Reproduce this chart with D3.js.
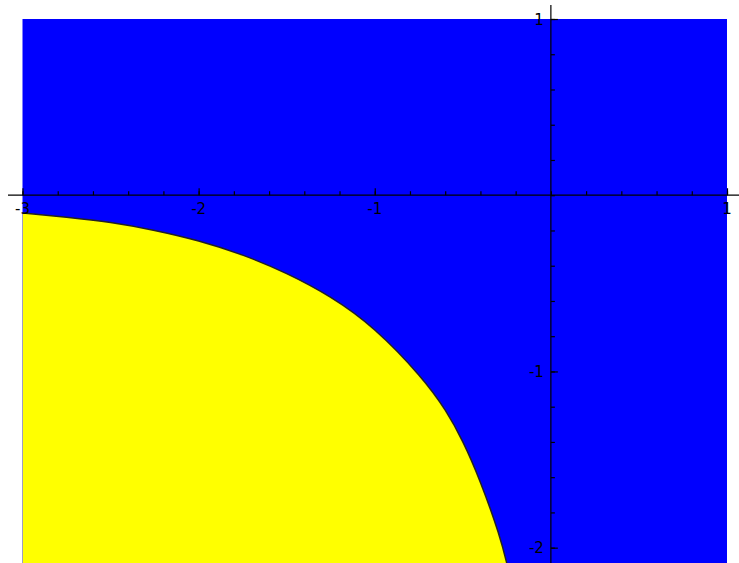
<!DOCTYPE html>
<html>
<head>
<meta charset="utf-8">
<script src="https://cdn.jsdelivr.net/npm/d3@7"></script>
<style>
  body { margin: 0; background: #fff; }
  text { font-family: "DejaVu Sans", sans-serif; font-size: 15px; }
</style>
</head>
<body>
<svg id="chart" width="739" height="563"></svg>
<script>
// region boundary
var boundaryX = [-3, -2.75, -2.5, -2.25, -2.0, -1.75, -1.5, -1.25, -1.0, -0.75, -0.6, -0.5, -0.4, -0.3, -0.25]
var boundaryY = [-0.1, -0.125, -0.155, -0.2, -0.26, -0.34, -0.445, -0.58, -0.765, -1.02, -1.22, -1.4, -1.63, -1.91, -2.09]

var xDomain = [-3, 1]
var yDomain = [-2.087, 1]
var xMajor = [-3, -2, -1, 1]
var yMajor = [-2, -1, 1]
var xMinor = d3.range(-15, 6).map(d => d / 5)
var yMinor = d3.range(-10, 6).map(d => d / 5)

var svg = d3.select("#chart")

var x = d3.scaleLinear().domain(xDomain).range([22.5, 727])
var y = d3.scaleLinear().domain(yDomain).range([563, 19])

svg.append("clipPath").attr("id", "plot")
    .append("rect")
    .attr("x", x(xDomain[0]))
    .attr("y", y(yDomain[1]))
    .attr("width", x(xDomain[1]) - x(xDomain[0]))
    .attr("height", y(yDomain[0]) - y(yDomain[1]))

// background region (blue)
svg.append("rect")
    .attr("x", x(xDomain[0]))
    .attr("y", y(yDomain[1]))
    .attr("width", x(xDomain[1]) - x(xDomain[0]))
    .attr("height", y(yDomain[0]) - y(yDomain[1]))
    .attr("fill", "#0000ff")

var pts = boundaryX.map((d, i) => [d, boundaryY[i]])

var line = d3.line()
    .x(d => x(d[0]))
    .y(d => y(d[1]))
    .curve(d3.curveNatural)

// yellow region: under the boundary, closed via the lower-left corner
var area = d3.area()
    .x(d => x(d[0]))
    .y0(y(yDomain[0]) + 5)
    .y1(d => y(d[1]))
    .curve(d3.curveNatural)

var g = svg.append("g").attr("clip-path", "url(#plot)")

g.append("path")
    .datum(pts)
    .attr("fill", "#ffff00")
    .attr("d", area)

g.append("path")
    .datum(pts)
    .attr("fill", "none")
    .attr("stroke", "#222")
    .attr("stroke-width", 1.5)
    .attr("d", line)

// axes through the origin
var x0 = x(0), y0 = y(0)

svg.append("line")
    .attr("x1", 8).attr("x2", 739)
    .attr("y1", y0).attr("y2", y0)
    .attr("stroke", "#000").attr("stroke-width", 1.2)

svg.append("line")
    .attr("x1", x0).attr("x2", x0)
    .attr("y1", 5).attr("y2", 563)
    .attr("stroke", "#000").attr("stroke-width", 1.2)

// minor and major ticks
var gx = svg.append("g").attr("transform", "translate(0," + y0 + ")")
    .call(d3.axisTop(x).tickValues(xMinor).tickSize(4).tickFormat(""))
gx.call(g => g.select(".domain").remove())
var gxMaj = svg.append("g").attr("transform", "translate(0," + y0 + ")")
    .call(d3.axisTop(x).tickValues(xMajor).tickSize(7).tickFormat(""))
gxMaj.call(g => g.select(".domain").remove())

var gy = svg.append("g").attr("transform", "translate(" + x0 + ",0)")
    .call(d3.axisRight(y).tickValues(yMinor).tickSize(4).tickFormat(""))
gy.call(g => g.select(".domain").remove())
var gyMaj = svg.append("g").attr("transform", "translate(" + x0 + ",0)")
    .call(d3.axisRight(y).tickValues(yMajor).tickSize(7).tickFormat(""))
gyMaj.call(g => g.select(".domain").remove())

svg.selectAll(".tick line").attr("stroke", "#000").attr("stroke-width", 1.2)

// tick labels (plain hyphen, as in the original)
svg.selectAll(".xlab")
    .data(xMajor)
    .enter()
    .append("text")
    .attr("class", "xlab")
    .attr("x", d => x(d))
    .attr("y", y0 + 19)
    .attr("text-anchor", "middle")
    .text(d => String(d))

svg.selectAll(".ylab")
    .data(yMajor)
    .enter()
    .append("text")
    .attr("class", "ylab")
    .attr("x", x0 - 7)
    .attr("y", d => y(d) + 5.5)
    .attr("text-anchor", "end")
    .text(d => String(d))
</script>
</body>
</html>
